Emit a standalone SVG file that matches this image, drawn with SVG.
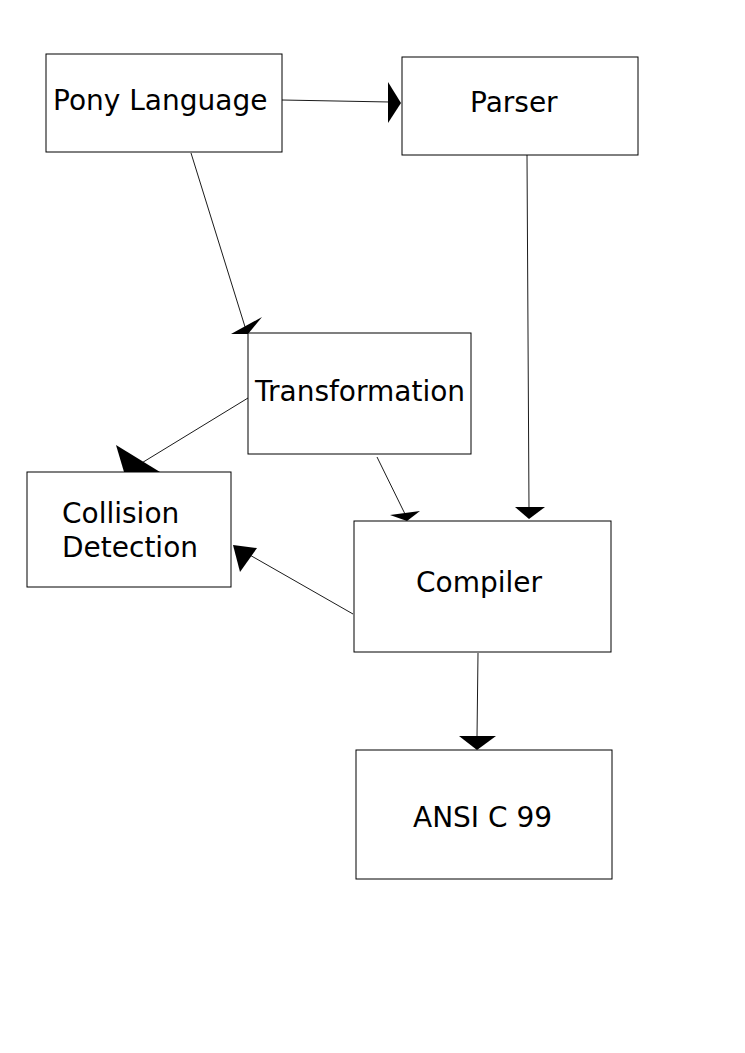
<svg xmlns="http://www.w3.org/2000/svg" width="745" height="1053" viewBox="0 0 745 1053">
<style>
.box{fill:#fff;stroke:#000;stroke-width:1}
.t{font-family:"DejaVu Sans",sans-serif;font-size:28px;fill:#000}
.ln{stroke:#000;stroke-width:0.9;fill:none}
.ah{fill:#000;stroke:none}
</style>
<rect width="745" height="1053" fill="#fff"/>
<g id="connectors">
<line class="ln" x1="282" y1="100" x2="390" y2="102"/>
<polygon class="ah" points="388,82 401,103 388,123"/>
<line class="ln" x1="191" y1="153" x2="246" y2="330"/>
<polygon class="ah" points="231,334 262,317 248,334"/>
<line class="ln" x1="248" y1="398" x2="140" y2="464"/>
<polygon class="ah" points="116,445 124,472 160,472"/>
<line class="ln" x1="377" y1="457" x2="406" y2="516"/>
<polygon class="ah" points="390,515 420,511 407,521"/>
<line class="ln" x1="527" y1="155" x2="529" y2="510"/>
<polygon class="ah" points="515,507 545,507 529,519"/>
<line class="ln" x1="353" y1="614" x2="248" y2="554"/>
<polygon class="ah" points="233,545 257,548 240,572"/>
<line class="ln" x1="478" y1="653" x2="477" y2="737"/>
<polygon class="ah" points="459,736 496,736 477,750"/>
</g>
<g id="pony"><rect class="box" x="46" y="54" width="236" height="98"/><text class="t" x="53" y="110">Pony Language</text></g>
<g id="parser"><rect class="box" x="402" y="57" width="236" height="98"/><text class="t" x="470" y="112">Parser</text></g>
<g id="transformation"><rect class="box" x="248" y="333" width="223" height="121"/><text class="t" x="255" y="401">Transformation</text></g>
<g id="collision"><rect class="box" x="27" y="472" width="204" height="115"/><text class="t" x="62" y="523">Collision</text><text class="t" x="62" y="557">Detection</text></g>
<g id="compiler"><rect class="box" x="354" y="521" width="257" height="131"/><text class="t" x="416" y="592">Compiler</text></g>
<g id="ansi"><rect class="box" x="356" y="750" width="256" height="129"/><text class="t" x="413" y="827">ANSI C 99</text></g>
</svg>
